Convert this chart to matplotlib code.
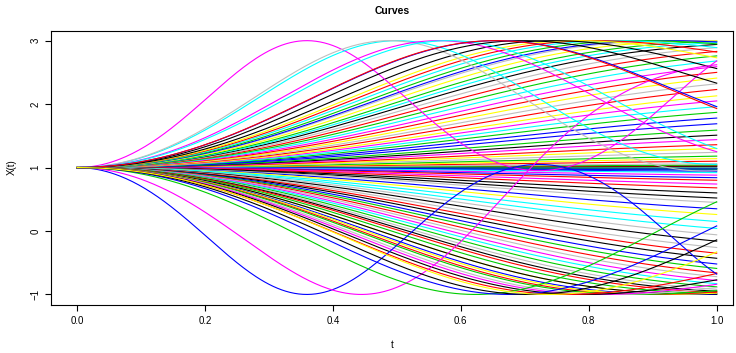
import numpy as np
import matplotlib.pyplot as plt

plt.rcParams['font.family'] = ['Liberation Sans', 'DejaVu Sans']

# R default palette
pal = {'k': '#000000', 'r': '#FF0000', 'g': '#00CD00', 'b': '#0000FF',
       'c': '#00FFFF', 'm': '#FF00FF', 'y': '#FFFF00', 'a': '#BEBEBE'}

# value at t=1, and whether the curve already passed its top (1) / bottom (-1)
up_end = [1.00, 1.01, 1.02, 1.03, 1.04, 1.06, 1.10, 1.14, 1.18, 1.24,
          1.30, 1.36, 1.44, 1.51, 1.59, 1.69, 1.78, 1.87, 1.96, 2.05,
          2.13, 2.23, 2.32, 2.41, 2.50, 2.59, 2.68, 2.76, 2.83, 2.89,
          2.94, 2.97, 2.99, 3.00, 2.99, 2.98, 2.95, 2.89, 2.82, 2.73,
          2.56]
up_past = [0]*34 + [1]*7
up_col = "abkrgaryga" "yrmkgbbgcm" "yrayrmcgra" "kcgyabgcryk"

lo_end = [0.99, 0.98, 0.97, 0.96, 0.94, 0.92, 0.88, 0.84, 0.80, 0.74,
          0.68, 0.60, 0.52, 0.45, 0.35, 0.26, 0.15, 0.04, -0.06, -0.16,
          -0.26, -0.35, -0.43, -0.52, -0.59, -0.66, -0.72, -0.78, -0.83, -0.88,
          -0.92, -0.95, -0.97, -0.99, -1.00, -1.00, -0.99, -0.98, -0.96, -0.94,
          -0.89, -0.84, -0.77, -0.67]
lo_past = [0]*35 + [-1]*9
lo_col = "gbgbbcmbrm" "rkkabyccak" "arkbgramcg" "akrgykbyrg" "amkr"
fan_rate = 2.4

# curves that turn early (own speed)
wave_end = [2.68, -0.68, 2.62, 1.05, 0.95, 1.25, 1.30, 2.33, 1.96, 1.93,
            0.46, 0.08, -0.14, -0.33]
wave_past = [1, -1, -1, 1, 1, 1, 1, 1, 1, 1, -1, -1, -1, -1]
wave_rate = [4.35, 4.35, 3.0, 3.15, 3.2, 2.8, 2.7, 2.5, 2.5, 2.5,
             2.5, 2.3, 2.2, 2.1]
wave_col = "mbmcamckbrgbky"

t = np.linspace(0, 1, 301)


def curve(e, n, b):
    u = np.arcsin(np.clip((e-1)/2, -1, 1))
    ph = n*np.pi + (-1)**abs(n)*u
    a = ph/(1-np.cos(b))
    return 1+2*np.sin(a*(1-np.cos(b*t)))


fig = plt.figure(figsize=(7.36, 3.53), dpi=100)
ax = fig.add_axes([51.4/736, 1-304.6/353, (733-51.4)/736, (304.6-30.5)/353])

for e, n, c in zip(up_end + lo_end, up_past + lo_past, up_col + lo_col):
    ax.plot(t, curve(e, n, fan_rate), color=pal[c], lw=0.8)

for e, n, b, c in zip(wave_end, wave_past, wave_rate, wave_col):
    ax.plot(t, curve(e, n, b), color=pal[c], lw=0.8)

ax.set_xlim(-0.04, (733-77)/639.7)
ax.set_ylim(-1.16, 3.16)
ax.set_xticks([0, 0.2, 0.4, 0.6, 0.8, 1.0])
ax.set_xticklabels(['0.0', '0.2', '0.4', '0.6', '0.8', '1.0'])
ax.set_yticks([-1, 0, 1, 2, 3])
ax.set_yticklabels(['\u22121', '0', '1', '2', '3'], rotation=90, va='center')
ax.tick_params(direction='out', length=4, labelsize=7, width=0.8, pad=4)
for s in ax.spines.values():
    s.set_linewidth(0.8)

ax.set_title('Curves', fontsize=7.5, fontweight='bold', pad=12)
ax.set_xlabel('t', fontsize=7, labelpad=10)
ax.set_ylabel('X(t)', fontsize=7, labelpad=10)

fig.savefig('out.png', dpi=100)
